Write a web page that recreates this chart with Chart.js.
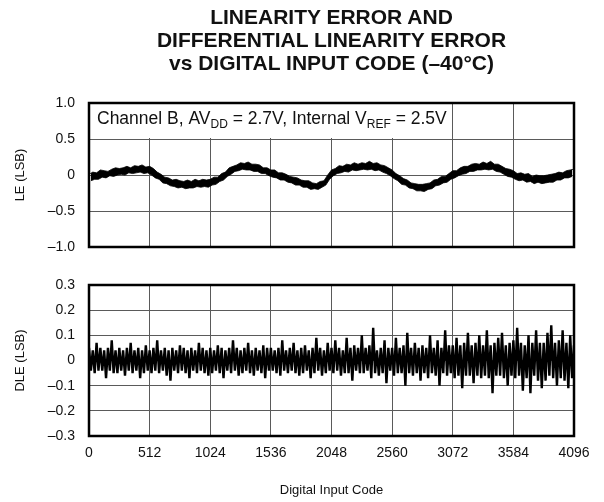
<!DOCTYPE html>
<html>
<head>
<meta charset="utf-8">
<script src="https://cdn.jsdelivr.net/npm/chart.js@4.4.0/dist/chart.umd.min.js"></script>
<style>
  body { margin: 0; background: #fff; overflow: hidden; }
  #wrap { position: relative; width: 604px; height: 502px; }
  #wrap canvas { position: absolute; left: 0; top: 0; }
  #title {
    position: absolute; left: 40px; width: 583px; top: 5px;
    text-align: center; font: bold 21px "Liberation Sans", Arial, sans-serif;
    line-height: 23px; color: #111;
  }
</style>
</head>
<body>
<div id="wrap">
  <canvas id="leChart" width="604" height="502"></canvas>
  <canvas id="dleChart" width="604" height="502"></canvas>
  <div id="title">LINEARITY ERROR AND<br>DIFFERENTIAL LINEARITY ERROR<br>vs DIGITAL INPUT CODE (–40°C)</div>
</div>
<script>
// x axis
const xTicks = [0, 512, 1024, 1536, 2048, 2560, 3072, 3584, 4096];
const xTickLabels = ['0', '512', '1024', '1536', '2048', '2560', '3072', '3584', '4096'];

// LE panel
const leTicks = [-1, -0.5, 0, 0.5, 1];
const leTickLabels = ['–1.0', '–0.5', '0', '0.5', '1.0'];
// upper edge of the LE trace, codes 0, 32, ... 4096 (one row per 256 codes)
const leHigh = [
  0.01, 0.04, 0.03, 0.07, 0.06, 0.05, 0.08, 0.10,
  0.09, 0.10, 0.12, 0.10, 0.13, 0.12, 0.14, 0.11,
  0.12, 0.09, 0.04, 0.01, -0.03, -0.04, -0.07, -0.06,
  -0.08, -0.09, -0.07, -0.09, -0.06, -0.08, -0.06, -0.07,
  -0.06, -0.03, -0.03, 0.02, 0.04, 0.10, 0.12, 0.14,
  0.17, 0.16, 0.18, 0.15, 0.15, 0.14, 0.10, 0.10,
  0.07, 0.07, 0.03, 0.03, 0.01, -0.02, -0.03, -0.04,
  -0.07, -0.08, -0.08, -0.11, -0.12, -0.09, -0.08, 0.00,
  0.07, 0.09, 0.13, 0.12, 0.15, 0.14, 0.17, 0.15,
  0.17, 0.16, 0.19, 0.16, 0.17, 0.14, 0.13, 0.10,
  0.07, 0.02, -0.01, -0.05, -0.07, -0.11, -0.12, -0.13,
  -0.13, -0.12, -0.11, -0.07, -0.06, -0.02, -0.02, 0.02,
  0.06, 0.06, 0.10, 0.12, 0.12, 0.15, 0.16, 0.15,
  0.18, 0.16, 0.19, 0.15, 0.15, 0.12, 0.09, 0.08,
  0.06, 0.02, 0.03, 0.01, 0.02, -0.02, 0.00, -0.01,
  -0.01, 0.00, 0.01, 0.02, 0.04, 0.03, 0.06, 0.07,
  0.08
];
// lower edge of the LE trace, codes 16, 48, ... 4080
const leLow = [
  -0.08, -0.06, -0.06, -0.03, -0.04, -0.01, -0.02, 0.00,
  0.01, 0.00, 0.03, 0.02, 0.03, 0.04, 0.02, 0.03,
  0.00, -0.04, -0.06, -0.11, -0.12, -0.15, -0.16, -0.18,
  -0.17, -0.19, -0.18, -0.18, -0.16, -0.17, -0.16, -0.17,
  -0.14, -0.13, -0.09, -0.07, -0.02, 0.01, 0.05, 0.06,
  0.08, 0.07, 0.07, 0.05, 0.05, 0.02, 0.02, -0.01,
  -0.03, -0.04, -0.07, -0.07, -0.10, -0.11, -0.14, -0.14,
  -0.17, -0.17, -0.20, -0.19, -0.20, -0.17, -0.14, -0.06,
  -0.01, 0.02, 0.03, 0.05, 0.04, 0.07, 0.06, 0.07,
  0.08, 0.07, 0.08, 0.06, 0.07, 0.04, 0.02, -0.01,
  -0.05, -0.08, -0.13, -0.14, -0.18, -0.19, -0.22, -0.22,
  -0.23, -0.20, -0.19, -0.15, -0.14, -0.11, -0.10, -0.06,
  -0.04, -0.01, 0.01, 0.02, 0.05, 0.05, 0.07, 0.07,
  0.08, 0.07, 0.08, 0.05, 0.04, 0.01, -0.02, -0.03,
  -0.06, -0.08, -0.07, -0.10, -0.09, -0.12, -0.10, -0.12,
  -0.11, -0.10, -0.10, -0.07, -0.07, -0.04, -0.04, -0.02
];

// DLE panel
const dleTicks = [-0.3, -0.2, -0.1, 0, 0.1, 0.2, 0.3];
const dleTickLabels = ['–0.3', '–0.2', '–0.1', '0', '0.1', '0.2', '0.3'];
const dleStep = 16;
// DLE trace, codes 0, 16, ... 4096 (one row per 256 codes)
const dle = [
  0.05, -0.04, 0.04, -0.05, 0.07, -0.04, 0.05, -0.04, 0.04, -0.07, 0.05, -0.04, 0.08, -0.05, 0.04, -0.05,
  0.05, -0.04, 0.04, -0.06, 0.05, -0.04, 0.07, -0.05, 0.04, -0.04, 0.05, -0.07, 0.04, -0.05, 0.06, -0.04,
  0.04, -0.05, 0.05, -0.04, 0.08, -0.05, 0.04, -0.04, 0.05, -0.06, 0.04, -0.08, 0.05, -0.04, 0.04, -0.05,
  0.06, -0.04, 0.05, -0.05, 0.04, -0.07, 0.05, -0.04, 0.04, -0.05, 0.07, -0.04, 0.05, -0.05, 0.04, -0.06,
  0.05, -0.05, 0.04, -0.04, 0.06, -0.05, 0.05, -0.07, 0.04, -0.04, 0.05, -0.05, 0.08, -0.04, 0.05, -0.06,
  0.04, -0.05, 0.05, -0.04, 0.07, -0.05, 0.04, -0.06, 0.05, -0.04, 0.04, -0.05, 0.06, -0.07, 0.05, -0.04,
  0.05, -0.04, 0.04, -0.05, 0.05, -0.06, 0.08, -0.04, 0.04, -0.05, 0.05, -0.04, 0.07, -0.05, 0.04, -0.06,
  0.05, -0.05, 0.06, -0.04, 0.04, -0.07, 0.05, -0.05, 0.09, -0.04, 0.05, -0.06, 0.04, -0.05, 0.07, -0.04,
  0.05, -0.05, 0.08, -0.04, 0.05, -0.06, 0.04, -0.05, 0.09, -0.05, 0.05, -0.08, 0.06, -0.04, 0.05, -0.05,
  0.10, -0.05, 0.05, -0.04, 0.06, -0.07, 0.13, -0.05, 0.04, -0.06, 0.05, -0.05, 0.08, -0.09, 0.05, -0.04,
  0.05, -0.06, 0.09, -0.05, 0.05, -0.05, 0.06, -0.10, 0.11, -0.05, 0.05, -0.06, 0.07, -0.05, 0.05, -0.08,
  0.06, -0.05, 0.05, -0.07, 0.10, -0.05, 0.05, -0.06, 0.08, -0.10, 0.05, -0.05, 0.12, -0.06, 0.06, -0.05,
  0.06, -0.07, 0.09, -0.06, 0.06, -0.11, 0.07, -0.06, 0.11, -0.06, 0.06, -0.09, 0.07, -0.06, 0.10, -0.07,
  0.06, -0.06, 0.12, -0.07, 0.06, -0.13, 0.07, -0.06, 0.09, -0.06, 0.11, -0.07, 0.06, -0.10, 0.07, -0.06,
  0.08, -0.07, 0.13, -0.06, 0.07, -0.12, 0.06, -0.07, 0.10, -0.13, 0.07, -0.06, 0.12, -0.08, 0.07, -0.11,
  0.07, -0.08, 0.11, -0.06, 0.14, -0.07, 0.07, -0.10, 0.08, -0.07, 0.12, -0.08, 0.07, -0.11, 0.10, -0.07,
  0.06
];

// note inside the LE panel: [text, isSubscript]
const noteParts = [
  ['Channel B, AV', false], ['DD', true], [' = 2.7V, Internal V', false], ['REF', true], [' = 2.5V', false]
];

const FONT = '"Liberation Sans", Arial, sans-serif';
const gridColor = '#5a5a5a';

function toPoints(values, step, start) {
  return values.map((v, i) => ({ x: start + i * step, y: v }));
}

// black frame round the plot area
const framePlugin = {
  id: 'frame',
  afterDraw(chart) {
    const { ctx, chartArea: a } = chart;
    ctx.save();
    ctx.strokeStyle = '#000';
    ctx.lineWidth = 2.5;
    ctx.strokeRect(a.left, a.top, a.right - a.left, a.bottom - a.top);
    ctx.restore();
  }
};

// white box with the test conditions, top left of the LE panel
const notePlugin = {
  id: 'note',
  beforeDatasetsDraw(chart) {
    const { ctx, chartArea: a, scales } = chart;
    const right = scales.x.getPixelForValue(3072) - 1;
    const bottom = scales.y.getPixelForValue(0.5) - 1;
    ctx.save();
    ctx.fillStyle = '#fff';
    ctx.fillRect(a.left, a.top, right - a.left, bottom - a.top);
    ctx.fillStyle = '#111';
    ctx.textBaseline = 'alphabetic';
    let x = a.left + 8;
    const y = a.top + 21;
    noteParts.forEach(([text, sub]) => {
      ctx.font = (sub ? '12px ' : '17.5px ') + FONT;
      ctx.fillText(text, x, sub ? y + 4 : y);
      x += ctx.measureText(text).width;
    });
    ctx.restore();
  }
};

function xScale(showLabels) {
  return {
    type: 'linear',
    min: 0,
    max: 4096,
    afterBuildTicks: s => { s.ticks = xTicks.map(v => ({ value: v })); },
    afterFit: s => { s.height = showLabels ? 66 : 0; },
    grid: { color: gridColor, lineWidth: 1, drawTicks: false },
    border: { display: false },
    ticks: {
      display: showLabels,
      padding: 9,
      color: '#111',
      font: { family: FONT, size: 14 },
      callback: (value, index) => xTickLabels[index]
    },
    title: {
      display: showLabels,
      text: 'Digital Input Code',
      color: '#111',
      font: { family: FONT, size: 13 },
      padding: { top: 0, bottom: 4 }
    }
  };
}

function yScale(min, max, ticks, labels, title) {
  return {
    min: min,
    max: max,
    afterBuildTicks: s => { s.ticks = ticks.map(v => ({ value: v })); },
    afterFit: s => { s.width = 89; },
    grid: { color: gridColor, lineWidth: 1, drawTicks: false },
    border: { display: false },
    ticks: {
      padding: 14,
      color: '#111',
      font: { family: FONT, size: 14 },
      callback: (value, index) => labels[index]
    },
    title: {
      display: true,
      text: title,
      color: '#111',
      font: { family: FONT, size: 13 },
      padding: { top: 13, bottom: 0 }
    }
  };
}

const common = {
  responsive: false,
  animation: false,
  devicePixelRatio: 1,
  plugins: { legend: { display: false }, tooltip: { enabled: false } },
  elements: { point: { radius: 0 }, line: { tension: 0 } }
};

new Chart(document.getElementById('leChart'), {
  type: 'line',
  data: {
    datasets: [
      { data: toPoints(leLow, 32, 16), borderColor: '#000', borderWidth: 0.8, fill: false },
      { data: toPoints(leHigh, 32, 0), borderColor: '#000', borderWidth: 0.8, fill: '-1', backgroundColor: '#000' }
    ]
  },
  options: Object.assign({}, common, {
    layout: { padding: { top: 103, bottom: 255, left: 0, right: 30 } },
    scales: {
      x: xScale(false),
      y: yScale(-1, 1, leTicks, leTickLabels, 'LE (LSB)')
    }
  }),
  plugins: [notePlugin, framePlugin]
});

new Chart(document.getElementById('dleChart'), {
  type: 'line',
  data: {
    datasets: [
      { data: toPoints(dle, dleStep, 0), borderColor: '#000', borderWidth: 2.4, borderJoinStyle: 'bevel', fill: 'origin', backgroundColor: '#000' }
    ]
  },
  options: Object.assign({}, common, {
    layout: { padding: { top: 285, bottom: 0, left: 0, right: 30 } },
    scales: {
      x: xScale(true),
      y: yScale(-0.3, 0.3, dleTicks, dleTickLabels, 'DLE (LSB)')
    }
  }),
  plugins: [framePlugin]
});
</script>
</body>
</html>
